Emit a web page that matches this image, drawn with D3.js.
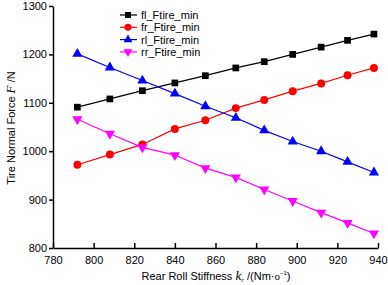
<!DOCTYPE html>
<html>
<head>
<meta charset="utf-8">
<script src="https://cdn.jsdelivr.net/npm/d3@7"></script>
<style>
  body { margin: 0; background: #fff; }
  text { font-family: "Liberation Sans", Arial, sans-serif; }
  .title { font-family: "Liberation Sans Narrow", "Arial Narrow", "Liberation Sans", sans-serif; }
</style>
</head>
<body>
<div id="chart"></div>
<script>
(function(){
    const stiffness = [792, 808, 824, 840, 855, 870, 884, 898, 912, 925, 938];
    const flValues = [1091, 1108, 1125, 1141, 1156, 1172, 1185, 1200, 1215, 1229, 1242];
    const frValues = [972, 993, 1014, 1046, 1064, 1089, 1106, 1124, 1140, 1157, 1172];
    const rlValues = [1201, 1173, 1146, 1119, 1093, 1069, 1043, 1020, 1000, 978, 956];
    const rrValues = [1066, 1036, 1008, 992, 965, 946, 921, 897, 873, 852, 830];
    const xTicks = [780, 800, 820, 840, 860, 880, 900, 920, 940];
    const yTicks = [800, 900, 1000, 1100, 1200, 1300];

    const series = [
        { name: 'fl_Ftire_min', values: flValues, color: '#000000', symbol: d3.symbolSquare, rotate: 0 },
        { name: 'fr_Ftire_min', values: frValues, color: '#ff0000', symbol: d3.symbolCircle, rotate: 0 },
        { name: 'rl_Ftire_min', values: rlValues, color: '#0000ff', symbol: d3.symbolTriangle, rotate: 0 },
        { name: 'rr_Ftire_min', values: rrValues, color: '#ff00ff', symbol: d3.symbolTriangle, rotate: 180 },
    ];

    const margin = { top: 6, left: 53, bottom: 37, right: 10 };
    const fullWidth = 388, fullHeight = 285;
    const width = fullWidth - margin.left - margin.right;
    const height = fullHeight - margin.top - margin.bottom;

    const svg = d3.select('#chart')
        .append('svg')
            .attr('width', fullWidth)
            .attr('height', fullHeight)
        .append('g')
            .attr('transform', `translate(${margin.left}, ${margin.top})`);

    const xScale = d3.scaleLinear().domain([780, 940]).range([0, 325]);
    const yScale = d3.scaleLinear().domain([800, 1300]).range([height, 0]);

    const xAxis = svg.append('g')
        .attr('transform', `translate(0, ${height})`)
        .call(d3.axisBottom(xScale).tickValues(xTicks).tickFormat(d3.format('d'))
            .tickSizeInner(-5).tickSizeOuter(0).tickPadding(8));
    const yAxis = svg.append('g')
        .call(d3.axisLeft(yScale).tickValues(yTicks).tickFormat(d3.format('d'))
            .tickSizeInner(4).tickSizeOuter(0).tickPadding(2));

    [xAxis, yAxis].forEach(a => {
        a.select('.domain').attr('stroke', '#000').attr('stroke-width', 1.5);
        a.selectAll('.tick line').attr('stroke', '#000').attr('stroke-width', 1.5);
        a.selectAll('.tick text').attr('fill', '#000').style('font-size', '11px');
    });

    const line = d3.line()
        .x((d, i) => xScale(stiffness[i]))
        .y(d => yScale(d));

    series.forEach(s => {
        svg.append('path')
            .datum(s.values)
            .attr('fill', 'none')
            .attr('stroke', s.color)
            .attr('stroke-width', 1.2)
            .attr('d', line);

        svg.selectAll(null)
            .data(s.values)
            .enter()
            .append('path')
                .attr('d', d3.symbol().type(s.symbol).size(s.symbol === d3.symbolCircle ? 50 : 45))
                .attr('fill', s.color)
                .attr('transform', (d, i) => `translate(${xScale(stiffness[i])}, ${yScale(d)}) rotate(${s.rotate})`);
    });

    // legend
    const legend = svg.append('g')
        .attr('transform', `translate(${120 - margin.left}, ${15 - margin.top})`);
    series.forEach((s, i) => {
        const g = legend.append('g').attr('transform', `translate(0, ${i * 12.3})`);
        g.append('line')
            .attr('x1', 0).attr('x2', 17)
            .attr('stroke', s.color).attr('stroke-width', 1.2);
        g.append('path')
            .attr('d', d3.symbol().type(s.symbol).size(s.symbol === d3.symbolCircle ? 40 : 35))
            .attr('fill', s.color)
            .attr('transform', `translate(8, 0) rotate(${s.rotate})`);
        g.append('text')
            .attr('x', 21)
            .attr('y', 4)
            .style('font-size', '11px')
            .attr('fill', '#000')
            .text(s.name);
    });

    // axis titles
    const yTitle = svg.append('text')
        .attr('class', 'title')
        .attr('transform', `translate(${15 - margin.left}, ${128 - margin.top}) rotate(-90)`)
        .style('text-anchor', 'middle')
        .style('font-size', '11px')
        .attr('fill', '#000');
    yTitle.append('tspan').text('Tire Normal Force ');
    yTitle.append('tspan').style('font-family', '"Liberation Serif", serif').style('font-style', 'italic').style('font-size', '13px').text('F');
    yTitle.append('tspan').text(' /N');

    const xTitle = svg.append('text')
        .attr('class', 'title')
        .attr('x', 216 - margin.left)
        .attr('y', 280 - margin.top)
        .style('text-anchor', 'middle')
        .style('font-size', '11px')
        .attr('fill', '#000');
    xTitle.append('tspan').text('Rear Roll Stiffness  ');
    xTitle.append('tspan').style('font-family', '"Liberation Serif", serif').style('font-style', 'italic').style('font-size', '13px').text('k');
    xTitle.append('tspan').style('font-family', '"Liberation Serif", serif').style('font-style', 'italic').style('font-size', '7px').attr('dy', 2).text('r');
    xTitle.append('tspan').attr('dy', -2).text(' /(Nm\u00b7');
    xTitle.append('tspan').style('font-family', '"Liberation Serif", serif').text('o');
    xTitle.append('tspan').style('font-size', '6px').attr('dy', -5).text('\u22121');
    xTitle.append('tspan').attr('dy', 5).text(')');
}());
</script>
</body>
</html>
